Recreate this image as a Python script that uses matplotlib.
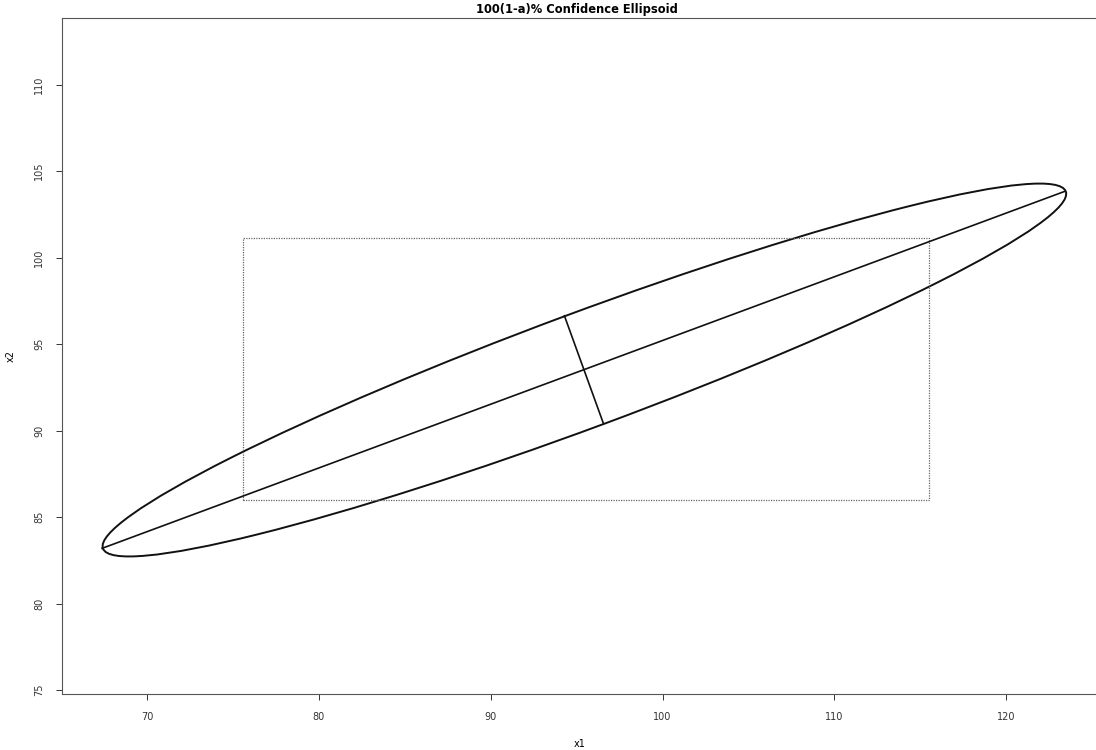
import numpy as np
import matplotlib
matplotlib.use("Agg")
import matplotlib.pyplot as plt
from matplotlib.patches import Ellipse, Rectangle

# ellipse
center = [95.45, 93.5]
major_ends = [[67.38, 83.19], [123.41, 103.83]]
minor_ends = [[94.29, 96.63], [96.56, 90.40]]

# simultaneous intervals (dotted box)
x1_ci = [75.59, 115.49]
x2_ci = [85.96, 101.12]

xticks = [70, 80, 90, 100, 110, 120]
yticks = [75, 80, 85, 90, 95, 100, 105, 110]

fig = plt.figure(figsize=(10.96, 7.5), dpi=100)
ax = fig.add_axes([62 / 1096, 1 - 694 / 750, 1 - 62 / 1096 + 0.002, (694 - 18) / 750])

maj = np.array(major_ends)
mnr = np.array(minor_ends)
a = np.hypot(*(maj[1] - maj[0])) / 2
b = np.hypot(*(mnr[1] - mnr[0])) / 2
ang = np.degrees(np.arctan2(maj[1][1] - maj[0][1], maj[1][0] - maj[0][0]))

ax.add_patch(Ellipse(center, 2 * a, 2 * b, angle=ang, fill=False, color="#111111", lw=1.4))
ax.plot(maj[:, 0], maj[:, 1], color="#111111", lw=1.2)
ax.plot(mnr[:, 0], mnr[:, 1], color="#111111", lw=1.2)
ax.add_patch(Rectangle((x1_ci[0], x2_ci[0]), x1_ci[1] - x1_ci[0], x2_ci[1] - x2_ci[0],
                       fill=False, edgecolor="#666666", lw=0.9, linestyle=(0, (1, 1))))

ax.set_xlim(65.05, 125.35)
ax.set_ylim(74.77, 113.85)
ax.set_xticks(xticks)
ax.set_yticks(yticks)
ax.tick_params(direction="out", length=4, width=0.7, labelsize=7, colors="#333333", pad=9)
for lab in ax.get_yticklabels():
    lab.set_rotation(90)
    lab.set_va("center")
for s in ax.spines.values():
    s.set_linewidth(0.8)
    s.set_color("#555555")

ax.set_xlabel("x1", fontsize=7, labelpad=12)
ax.set_ylabel("x2", fontsize=7, labelpad=13)
fig.text(0.526, 1 - 9 / 750, "100(1-a)% Confidence Ellipsoid", ha="center", va="center",
         fontsize=8.3, fontweight="bold")

fig.savefig("out.png", dpi=100)
